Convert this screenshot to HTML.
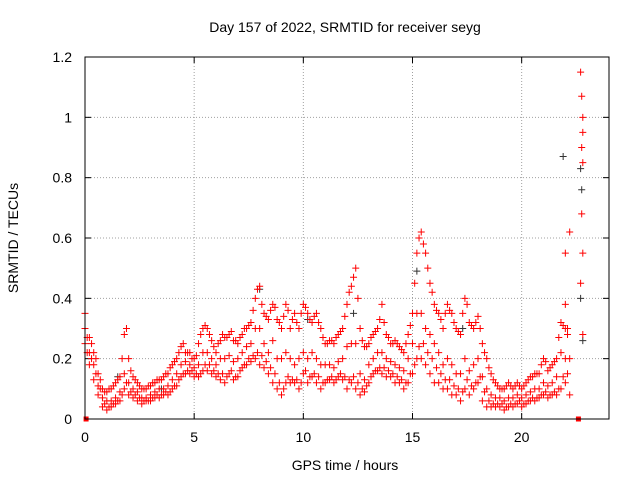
<!DOCTYPE html>
<html><head><meta charset="utf-8"><style>
body{margin:0;background:#fff;}
svg{display:block;font-family:"Liberation Sans",sans-serif;}
</style></head><body>
<svg id="chart" width="640" height="480">
<text x="345" y="32" font-size="14" text-anchor="middle">Day 157 of 2022, SRMTID for receiver seyg</text>
<text x="345" y="470" font-size="14" text-anchor="middle">GPS time / hours</text>
<text transform="translate(18,238) rotate(-90)" font-size="14" text-anchor="middle">SRMTID / TECUs</text>
<g id="grid"></g><g id="ticks"></g><g id="marks"></g>
<rect x="85" y="57" width="524" height="362" fill="none" stroke="#000"/>
</svg>
<script>
const times=[0,0.2,0.4,0.6,0.8,1.0,1.2,1.4,1.6,1.8,2.0,2.2,2.4,2.6,2.8,3.0,3.2,3.4,3.6,3.8,4.0,4.2,4.4,4.6,4.8,5.0,5.2,5.4,5.6,5.8,6.0,6.2,6.4,6.6,6.8,7.0,7.2,7.4,7.6,7.8,8.0,8.2,8.4,8.6,8.8,9.0,9.2,9.4,9.6,9.8,10.0,10.2,10.4,10.6,10.8,11.0,11.2,11.4,11.6,11.8,12.0,12.2,12.4,12.6,12.8,13.0,13.2,13.4,13.6,13.8,14.0,14.2,14.4,14.6,14.8,15.0,15.2,15.4,15.6,15.8,16.0,16.2,16.4,16.6,16.8,17.0,17.2,17.4,17.6,17.8,18.0,18.2,18.4,18.6,18.8,19.0,19.2,19.4,19.6,19.8,20.0,20.2,20.4,20.6,20.8,21.0,21.2,21.4,21.6,21.8,22.0,22.2];
const hiVals=[0.35,0.27,0.22,0.15,0.10,0.09,0.10,0.12,0.14,0.28,0.20,0.14,0.12,0.10,0.10,0.11,0.12,0.13,0.14,0.15,0.18,0.20,0.24,0.22,0.22,0.20,0.25,0.30,0.30,0.26,0.22,0.26,0.27,0.28,0.26,0.25,0.28,0.30,0.32,0.40,0.44,0.35,0.33,0.38,0.33,0.30,0.38,0.30,0.35,0.30,0.38,0.35,0.32,0.35,0.30,0.25,0.26,0.25,0.28,0.30,0.38,0.44,0.50,0.30,0.24,0.25,0.28,0.30,0.38,0.28,0.25,0.26,0.24,0.22,0.28,0.35,0.55,0.62,0.55,0.45,0.38,0.35,0.30,0.38,0.35,0.30,0.28,0.40,0.32,0.30,0.34,0.25,0.20,0.15,0.12,0.10,0.10,0.12,0.10,0.12,0.10,0.12,0.14,0.15,0.15,0.20,0.16,0.18,0.20,0.32,0.30,0.62];
const midVals=[0.30,0.22,0.18,0.11,0.07,0.06,0.06,0.07,0.09,0.15,0.12,0.10,0.09,0.07,0.07,0.08,0.09,0.10,0.10,0.11,0.13,0.15,0.18,0.19,0.18,0.17,0.18,0.22,0.22,0.20,0.18,0.20,0.20,0.21,0.19,0.20,0.22,0.24,0.25,0.30,0.30,0.25,0.22,0.26,0.20,0.20,0.22,0.20,0.18,0.20,0.22,0.20,0.22,0.20,0.18,0.18,0.18,0.17,0.19,0.20,0.24,0.25,0.25,0.15,0.13,0.18,0.20,0.22,0.22,0.20,0.19,0.18,0.17,0.16,0.20,0.25,0.35,0.35,0.30,0.28,0.25,0.22,0.18,0.20,0.18,0.15,0.15,0.20,0.16,0.18,0.20,0.14,0.10,0.08,0.07,0.07,0.06,0.07,0.07,0.08,0.07,0.08,0.09,0.10,0.10,0.12,0.11,0.12,0.14,0.22,0.20,0.20];
const loVals=[0.25,0.18,0.13,0.08,0.04,0.03,0.04,0.05,0.06,0.10,0.08,0.07,0.06,0.05,0.06,0.06,0.07,0.07,0.08,0.08,0.10,0.11,0.14,0.15,0.15,0.14,0.14,0.16,0.16,0.15,0.14,0.13,0.12,0.15,0.13,0.14,0.17,0.18,0.19,0.20,0.18,0.17,0.15,0.12,0.10,0.08,0.12,0.12,0.12,0.10,0.15,0.12,0.14,0.12,0.10,0.12,0.13,0.12,0.14,0.13,0.10,0.12,0.10,0.08,0.09,0.12,0.15,0.16,0.15,0.14,0.14,0.12,0.12,0.10,0.12,0.15,0.20,0.20,0.18,0.15,0.12,0.12,0.10,0.10,0.08,0.08,0.06,0.10,0.08,0.10,0.12,0.06,0.04,0.04,0.04,0.04,0.03,0.04,0.04,0.05,0.04,0.05,0.06,0.06,0.07,0.08,0.07,0.08,0.08,0.10,0.12,0.08];
const times2=[0.1,0.3,0.5,0.7,0.9,1.1,1.3,1.5,1.7,1.9,2.1,2.3,2.5,2.7,2.9,3.1,3.3,3.5,3.7,3.9,4.1,4.3,4.5,4.7,4.9,5.1,5.3,5.5,5.7,5.9,6.1,6.3,6.5,6.7,6.9,7.1,7.3,7.5,7.7,7.9,8.1,8.3,8.5,8.7,8.9,9.1,9.3,9.5,9.7,9.9,10.1,10.3,10.5,10.7,10.9,11.1,11.3,11.5,11.7,11.9,12.1,12.3,12.5,12.7,12.9,13.1,13.3,13.5,13.7,13.9,14.1,14.3,14.5,14.7,14.9,15.1,15.3,15.5,15.7,15.9,16.1,16.3,16.5,16.7,16.9,17.1,17.3,17.5,17.7,17.9,18.1,18.3,18.5,18.7,18.9,19.1,19.3,19.5,19.7,19.9,20.1,20.3,20.5,20.7,20.9,21.1,21.3,21.5,21.7,21.9,22.1];
const hiVals2=[0.27,0.25,0.2,0.13,0.09,0.1,0.11,0.13,0.2,0.3,0.16,0.13,0.11,0.1,0.11,0.12,0.13,0.13,0.15,0.17,0.19,0.22,0.25,0.22,0.2,0.21,0.28,0.31,0.28,0.24,0.25,0.28,0.27,0.29,0.26,0.27,0.3,0.31,0.36,0.43,0.38,0.34,0.36,0.37,0.32,0.34,0.36,0.33,0.32,0.35,0.37,0.33,0.34,0.32,0.27,0.25,0.26,0.27,0.29,0.34,0.42,0.47,0.4,0.26,0.24,0.27,0.29,0.33,0.32,0.27,0.25,0.25,0.23,0.25,0.31,0.45,0.6,0.58,0.5,0.42,0.36,0.33,0.35,0.36,0.32,0.29,0.35,0.38,0.31,0.32,0.3,0.22,0.17,0.13,0.11,0.1,0.11,0.11,0.11,0.11,0.11,0.13,0.14,0.15,0.18,0.19,0.17,0.19,0.27,0.31,0.28];
const loVals2=[0.22,0.2,0.15,0.1,0.05,0.04,0.05,0.06,0.08,0.12,0.09,0.08,0.07,0.06,0.06,0.07,0.08,0.08,0.09,0.09,0.11,0.13,0.15,0.16,0.16,0.15,0.15,0.18,0.18,0.16,0.15,0.15,0.14,0.16,0.14,0.16,0.18,0.2,0.21,0.22,0.21,0.19,0.17,0.15,0.12,0.1,0.14,0.13,0.13,0.12,0.16,0.14,0.15,0.14,0.12,0.13,0.14,0.13,0.15,0.14,0.13,0.14,0.12,0.1,0.11,0.14,0.16,0.17,0.17,0.16,0.15,0.14,0.13,0.12,0.15,0.18,0.24,0.25,0.22,0.2,0.17,0.15,0.13,0.13,0.11,0.1,0.09,0.13,0.11,0.12,0.14,0.09,0.06,0.05,0.05,0.05,0.04,0.05,0.05,0.06,0.05,0.06,0.07,0.07,0.08,0.09,0.08,0.09,0.1,0.14,0.15];
const extraT=[22.7,22.75,22.8,22.8,22.75,22.8,22.75,22.8,22.7,22.8,22.0,22.0,22.1];
const extraV=[1.15,1.07,1.0,0.95,0.9,0.85,0.68,0.55,0.45,0.28,0.55,0.38,0.3];
const zeroT=[0.05,22.6];
const zeroV=[0,0];
const blackT=[21.9,22.7,22.75,22.7,22.8,15.2,8.0,1.5,12.3,17.3,10.2,3.5];
const blackV=[0.87,0.83,0.76,0.40,0.26,0.49,0.43,0.14,0.35,0.3,0.33,0.1];
const xTicks=[0,5,10,15,20];
const yTicks=[0,0.2,0.4,0.6,0.8,1.0,1.2];
const yLabels=["0","0.2","0.4","0.6","0.8","1","1.2"];
const NS="http://www.w3.org/2000/svg";
const X=v=>85+v*(524/24), Y=v=>419-v*(362/1.2);
const grid=document.getElementById('grid'),ticks=document.getElementById('ticks'),marks=document.getElementById('marks');
function mk(tag,attrs,parent){const e=document.createElementNS(NS,tag);for(const k in attrs)e.setAttribute(k,attrs[k]);parent.appendChild(e);return e;}
xTicks.forEach(t=>{
 const g=mk('line',{x1:X(t),x2:X(t),y1:57,y2:419,stroke:'#a0a0a0','stroke-dasharray':'1,2'},grid);
 
 
 mk('line',{x1:X(t),x2:X(t),y1:419,y2:413,stroke:'#000'},ticks);
 mk('line',{x1:X(t),x2:X(t),y1:57,y2:63,stroke:'#000'},ticks);
 const l=mk('text',{x:X(t),y:442,'font-size':14,'text-anchor':'middle'},ticks);
 l.textContent=t;
 
 
});
yTicks.forEach((t,i)=>{
 const g=mk('line',{x1:85,x2:609,y1:Y(t),y2:Y(t),stroke:'#a0a0a0','stroke-dasharray':'1,2'},grid);
 
 
 mk('line',{x1:85,x2:91,y1:Y(t),y2:Y(t),stroke:'#000'},ticks);
 mk('line',{x1:603,x2:609,y1:Y(t),y2:Y(t),stroke:'#000'},ticks);
 const l=mk('text',{x:72,y:Y(t)+5,'font-size':14,'text-anchor':'end'},ticks);
 l.textContent=yLabels[i];
 
 
});
function plus(t,v,color){
 if(t===undefined||v===undefined)return;
 const x=X(t),y=Y(v);
 const p=mk('path',{d:`M${x-3.5} ${y}h7M${x} ${y-3.5}v7`,stroke:color,'stroke-width':1,fill:'none'},marks);
 
 
}
blackT.forEach((t,i)=>plus(t,blackV[i],'#333'));
times.forEach((t,i)=>{plus(t,hiVals[i],'#f00');plus(t,midVals[i],'#f00');plus(t,loVals[i],'#f00');});
times2.forEach((t,i)=>{plus(t,hiVals2[i],'#f00');plus(t,loVals2[i],'#f00');});
extraT.forEach((t,i)=>plus(t,extraV[i],'#f00'));
zeroT.forEach((t,i)=>{
 const r=mk('rect',{x:X(t)-2.5,y:Y(zeroV[i])-2.5,width:5,height:5,fill:'#f00'},marks);
 
 
});
</script>
</body></html>
